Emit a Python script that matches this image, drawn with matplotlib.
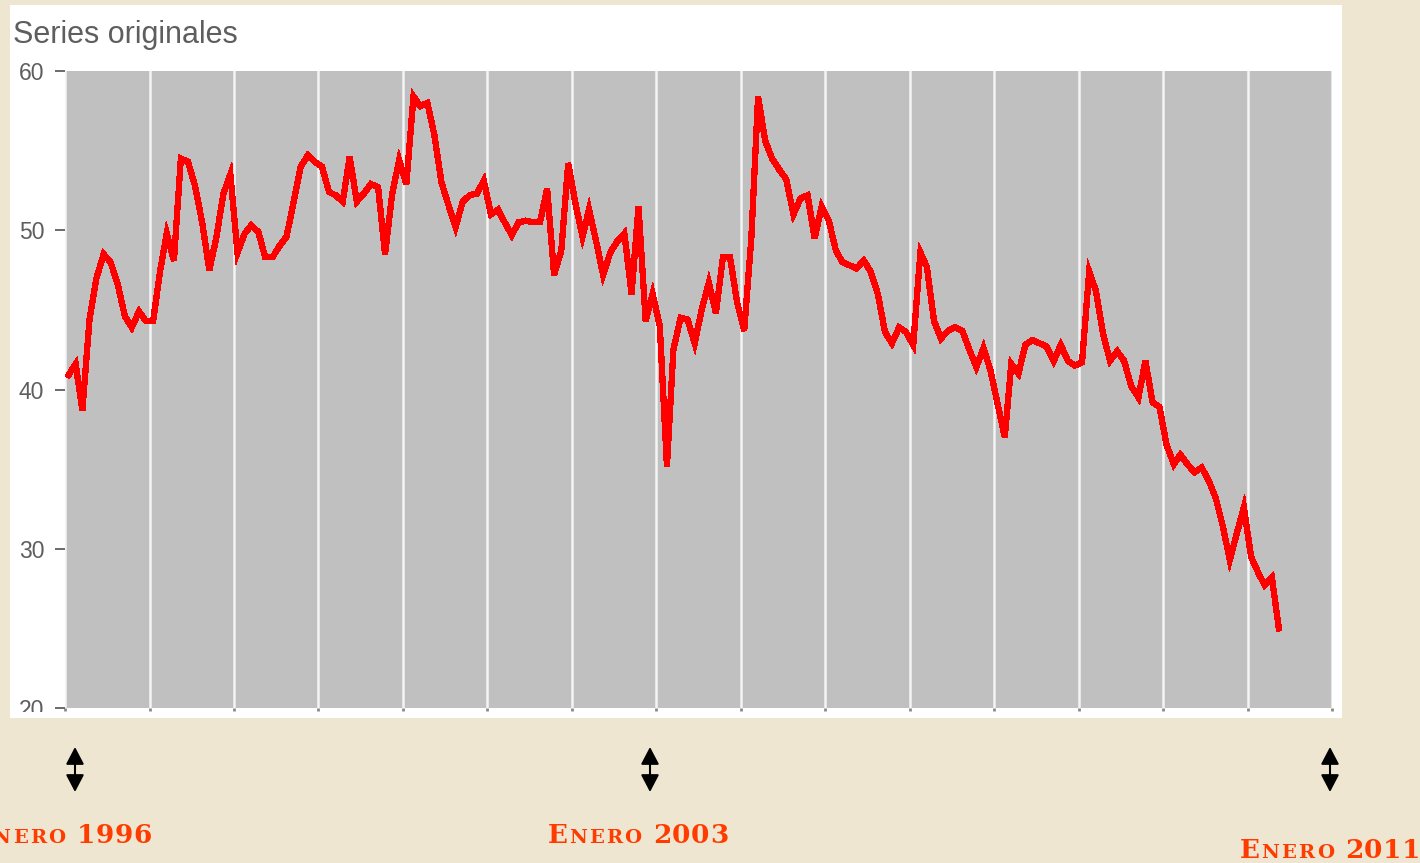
import numpy as np
import pandas as pd
import matplotlib
matplotlib.use('Agg')
import matplotlib.pyplot as plt
import matplotlib.dates as mdates
from matplotlib.patches import Rectangle, FancyArrowPatch, ArrowStyle

#----------------------------Data----------------------------------------------#
# monthly values, Jan 1996 .. May 2010
v1996 = [40.9, 41.6, 38.7, 44.4, 47.0, 48.5, 48.0, 46.6, 44.6, 43.9, 44.9, 44.3]
v1997 = [44.3, 47.5, 49.8, 48.1, 54.5, 54.3, 52.8, 50.5, 47.5, 49.5, 52.3, 53.5]
v1998 = [48.6, 49.8, 50.3, 49.9, 48.3, 48.3, 49.0, 49.6, 51.8, 54.0, 54.7, 54.3]
v1999 = [54.0, 52.4, 52.2, 51.8, 54.6, 51.8, 52.3, 52.9, 52.7, 48.5, 52.3, 54.4]
v2000 = [52.9, 58.4, 57.8, 58.0, 56.0, 53.0, 51.6, 50.2, 51.8, 52.2, 52.3, 53.1]
v2001 = [51.0, 51.3, 50.5, 49.7, 50.5, 50.6, 50.5, 50.5, 52.6, 47.2, 48.7, 54.2]
v2002 = [51.7, 49.6, 51.3, 49.3, 47.2, 48.6, 49.3, 49.8, 46.0, 51.5, 44.3, 46.0]
v2003 = [44.0, 35.2, 42.5, 44.5, 44.4, 42.9, 45.0, 46.7, 44.8, 48.3, 48.3, 45.5]
v2004 = [43.7, 49.5, 58.4, 55.6, 54.5, 53.8, 53.2, 51.0, 52.0, 52.2, 49.5, 51.5]
v2005 = [50.6, 48.7, 48.0, 47.8, 47.6, 48.1, 47.4, 46.0, 43.6, 42.9, 43.9, 43.6]
v2006 = [42.8, 48.6, 47.7, 44.3, 43.2, 43.7, 43.9, 43.7, 42.5, 41.4, 42.6, 41.2]
v2007 = [39.1, 37.0, 41.6, 41.0, 42.8, 43.1, 42.9, 42.7, 41.8, 42.8, 41.8, 41.5]
v2008 = [41.7, 47.4, 46.2, 43.5, 41.8, 42.4, 41.8, 40.2, 39.5, 41.8, 39.2, 38.9]
v2009 = [36.5, 35.3, 35.9, 35.3, 34.8, 35.1, 34.3, 33.2, 31.4, 29.3, 31.0, 32.6]
v2010 = [29.5, 28.5, 27.7, 28.2, 25.0]

series = (v1996 + v1997 + v1998 + v1999 + v2000 + v2001 + v2002 + v2003 +
          v2004 + v2005 + v2006 + v2007 + v2008 + v2009 + v2010)
months = pd.date_range('1996-01-01', periods=len(series), freq='MS') + pd.Timedelta(days=15)

y_ticks = [20, 30, 40, 50, 60]
title_text = 'Series originales'
marker_words = ['Enero', 'Enero', 'Enero']
marker_years = ['1996', '2003', '2011']

#----------------------------Style---------------------------------------------#
W, H = 1420, 863
beige = '#EFE6D1'
panel_gray = '#C0C0C0'
text_gray = '#5E5E5E'
line_red = '#FF0000'
label_red = '#FF3C00'

def fx(px):
    return px / W

def fy(py):
    return 1 - py / H

#----------------------------Plotting------------------------------------------#
fig = plt.figure(figsize=(W / 100, H / 100), dpi=100)
fig.patch.set_facecolor(beige)

# white panel behind the chart
fig.patches.append(Rectangle((fx(10), fy(718)), fx(1342) - fx(10), fy(5) - fy(718),
                             transform=fig.transFigure, facecolor='white',
                             edgecolor='none', zorder=-1))

ax = fig.add_axes([fx(65), fy(708), fx(1332) - fx(65), fy(71) - fy(708)])
ax.set_facecolor(panel_gray)
ax.plot(months, series, color=line_red, lw=3.8, antialiased=False,
        solid_joinstyle='miter', zorder=3)

ax.set_xlim(pd.Timestamp('1996-01-01'), pd.Timestamp('2011-01-01'))
ax.set_ylim(20, 60)
ax.set_yticks(y_ticks)
ax.xaxis.set_major_locator(mdates.YearLocator())
ax.xaxis.set_major_formatter(plt.NullFormatter())
ax.grid(axis='x', color='#F4F4F4', lw=1.8)
ax.grid(axis='y', visible=False)
for s in ax.spines.values():
    s.set_visible(False)
ax.tick_params(axis='y', length=7, width=1.4, color='#6A6A6A', pad=8,
               labelsize=16.5, labelcolor=text_gray)
ax.tick_params(axis='x', length=2, width=2, color='#8A8A8A')
for lb in ax.get_yticklabels():
    lb.set_family('Liberation Sans')

fig.text(fx(13), fy(43), title_text, fontsize=22, color=text_gray,
         family='Liberation Sans', va='baseline')

# the original chart image was cropped just under the axis -> lowest label cut
fig.patches.append(Rectangle((fx(10), fy(718)), fx(1342) - fx(10), fy(712) - fy(718),
                             transform=fig.transFigure, facecolor='white',
                             edgecolor='none', zorder=1))
fig.patches.append(Rectangle((0, 0), 1, fy(718), transform=fig.transFigure,
                             facecolor=beige, edgecolor='none', zorder=1))

# double arrows
for x_arrow in [75, 650, 1330]:
    arr = FancyArrowPatch((fx(x_arrow), fy(792)), (fx(x_arrow), fy(747)),
                          transform=fig.transFigure,
                          arrowstyle=ArrowStyle('<|-|>', head_length=1.05, head_width=0.55),
                          mutation_scale=10, color='black', lw=1.5,
                          shrinkA=0, shrinkB=0, zorder=3)
    fig.patches.append(arr)

# small caps labels, drawn letter by letter to get the wide spacing
renderer = fig.canvas.get_renderer()

def small_caps(word, year, x, base, align='left'):
    kw = dict(color=label_red, family='DejaVu Serif', weight='heavy',
              va='baseline', zorder=4)
    parts = [(word[0].upper(), 19, 1.0), (word[1:].upper(), 14, 2.2),
             (' ', 19, 0), (year, 19, 0.6)]
    texts = []
    cur = 0
    for s, size, track in parts:
        for ch in s:
            t = fig.text(0, fy(base), ch, fontsize=size, **kw)
            bb = t.get_window_extent(renderer)
            t.set_x(cur)
            cur += bb.width + track
            texts.append(t)
    shift = x if align == 'left' else x - cur
    for t in texts:
        t.set_x(fx(t.get_position()[0] + shift))

small_caps(marker_words[0], marker_years[0], 152, 843, align='right')
small_caps(marker_words[1], marker_years[1], 548, 843)
small_caps(marker_words[2], marker_years[2], 1421, 858, align='right')

fig.savefig('out.png', dpi=100, facecolor=beige)
